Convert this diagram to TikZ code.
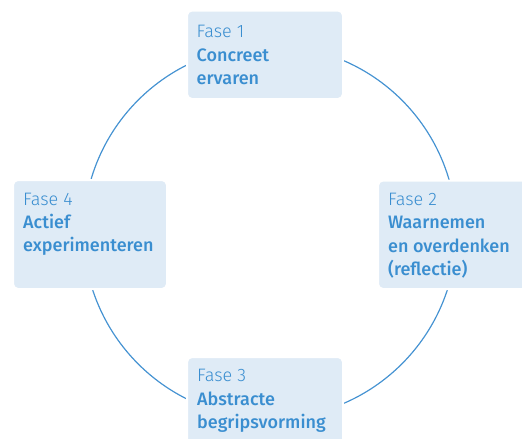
\documentclass[tikz,border=0pt]{standalone}
\usepackage{fontspec}
\setmainfont{Fira Sans}
\newfontfamily\lightf{Fira Sans Light}
\newfontfamily\medf{Fira Sans Medium}
\definecolor{boxfill}{HTML}{DFEBF6}
\definecolor{txtblue}{HTML}{3A8ED0}
\definecolor{ringblue}{HTML}{4693D2}
\begin{document}
\begin{tikzpicture}[x=1pt,y=-1pt,
  phasebox/.style={draw=white, line width=2pt, fill=boxfill, rounded corners=5pt, anchor=north west, inner sep=0pt},
  faselbl/.style={anchor=base west, inner sep=0pt, text=txtblue, font={\lightf\fontsize{18}{22}\selectfont}},
  titlelbl/.style={anchor=base west, inner sep=0pt, text=txtblue, font={\medf\fontsize{18}{22}\selectfont}},
  ring/.style={draw=ringblue, line width=1.2pt}]
\useasboundingbox (0,0) rectangle (522,439);
\clip (0,0) rectangle (522,439);
\draw[ring] (270,232) circle[radius=186.5];
% boxes
\node[phasebox, minimum width=156pt, minimum height=88.5pt] (b1) at (186,9.5) {};
\node[phasebox, minimum width=160pt, minimum height=108.5pt] (b2) at (377,179.5) {};
\node[phasebox, minimum width=100pt, minimum height=100pt, minimum width=156pt] (b3) at (186,356) {};
\node[phasebox, minimum width=154pt, minimum height=109pt] (b4) at (12,179) {};
% texts box 1
\node[faselbl] (t1a) at (196.5,37.3) {Fase 1};
\node[titlelbl] (t1b) at (196.5,61.7) {Concreet};
\node[titlelbl] (t1c) at (196.5,84) {ervaren};
% box 2
\node[faselbl] (t2a) at (388,205) {Fase 2};
\node[titlelbl] (t2b) at (388,228.3) {Waarnemen};
\node[titlelbl] (t2c) at (388,252.7) {en overdenken};
\node[titlelbl] (t2d) at (388,275.5) {(reflectie)};
% box 3
\node[faselbl] (t3a) at (197,381.7) {Fase 3};
\node[titlelbl] (t3b) at (197,405) {Abstracte};
\node[titlelbl] (t3c) at (197,428.3) {begripsvorming};
% box 4
\node[faselbl] (t4a) at (23,205) {Fase 4};
\node[titlelbl] (t4b) at (23,228.3) {Actief};
\node[titlelbl] (t4c) at (23,251.7) {experimenteren};
\end{tikzpicture}
\end{document}
